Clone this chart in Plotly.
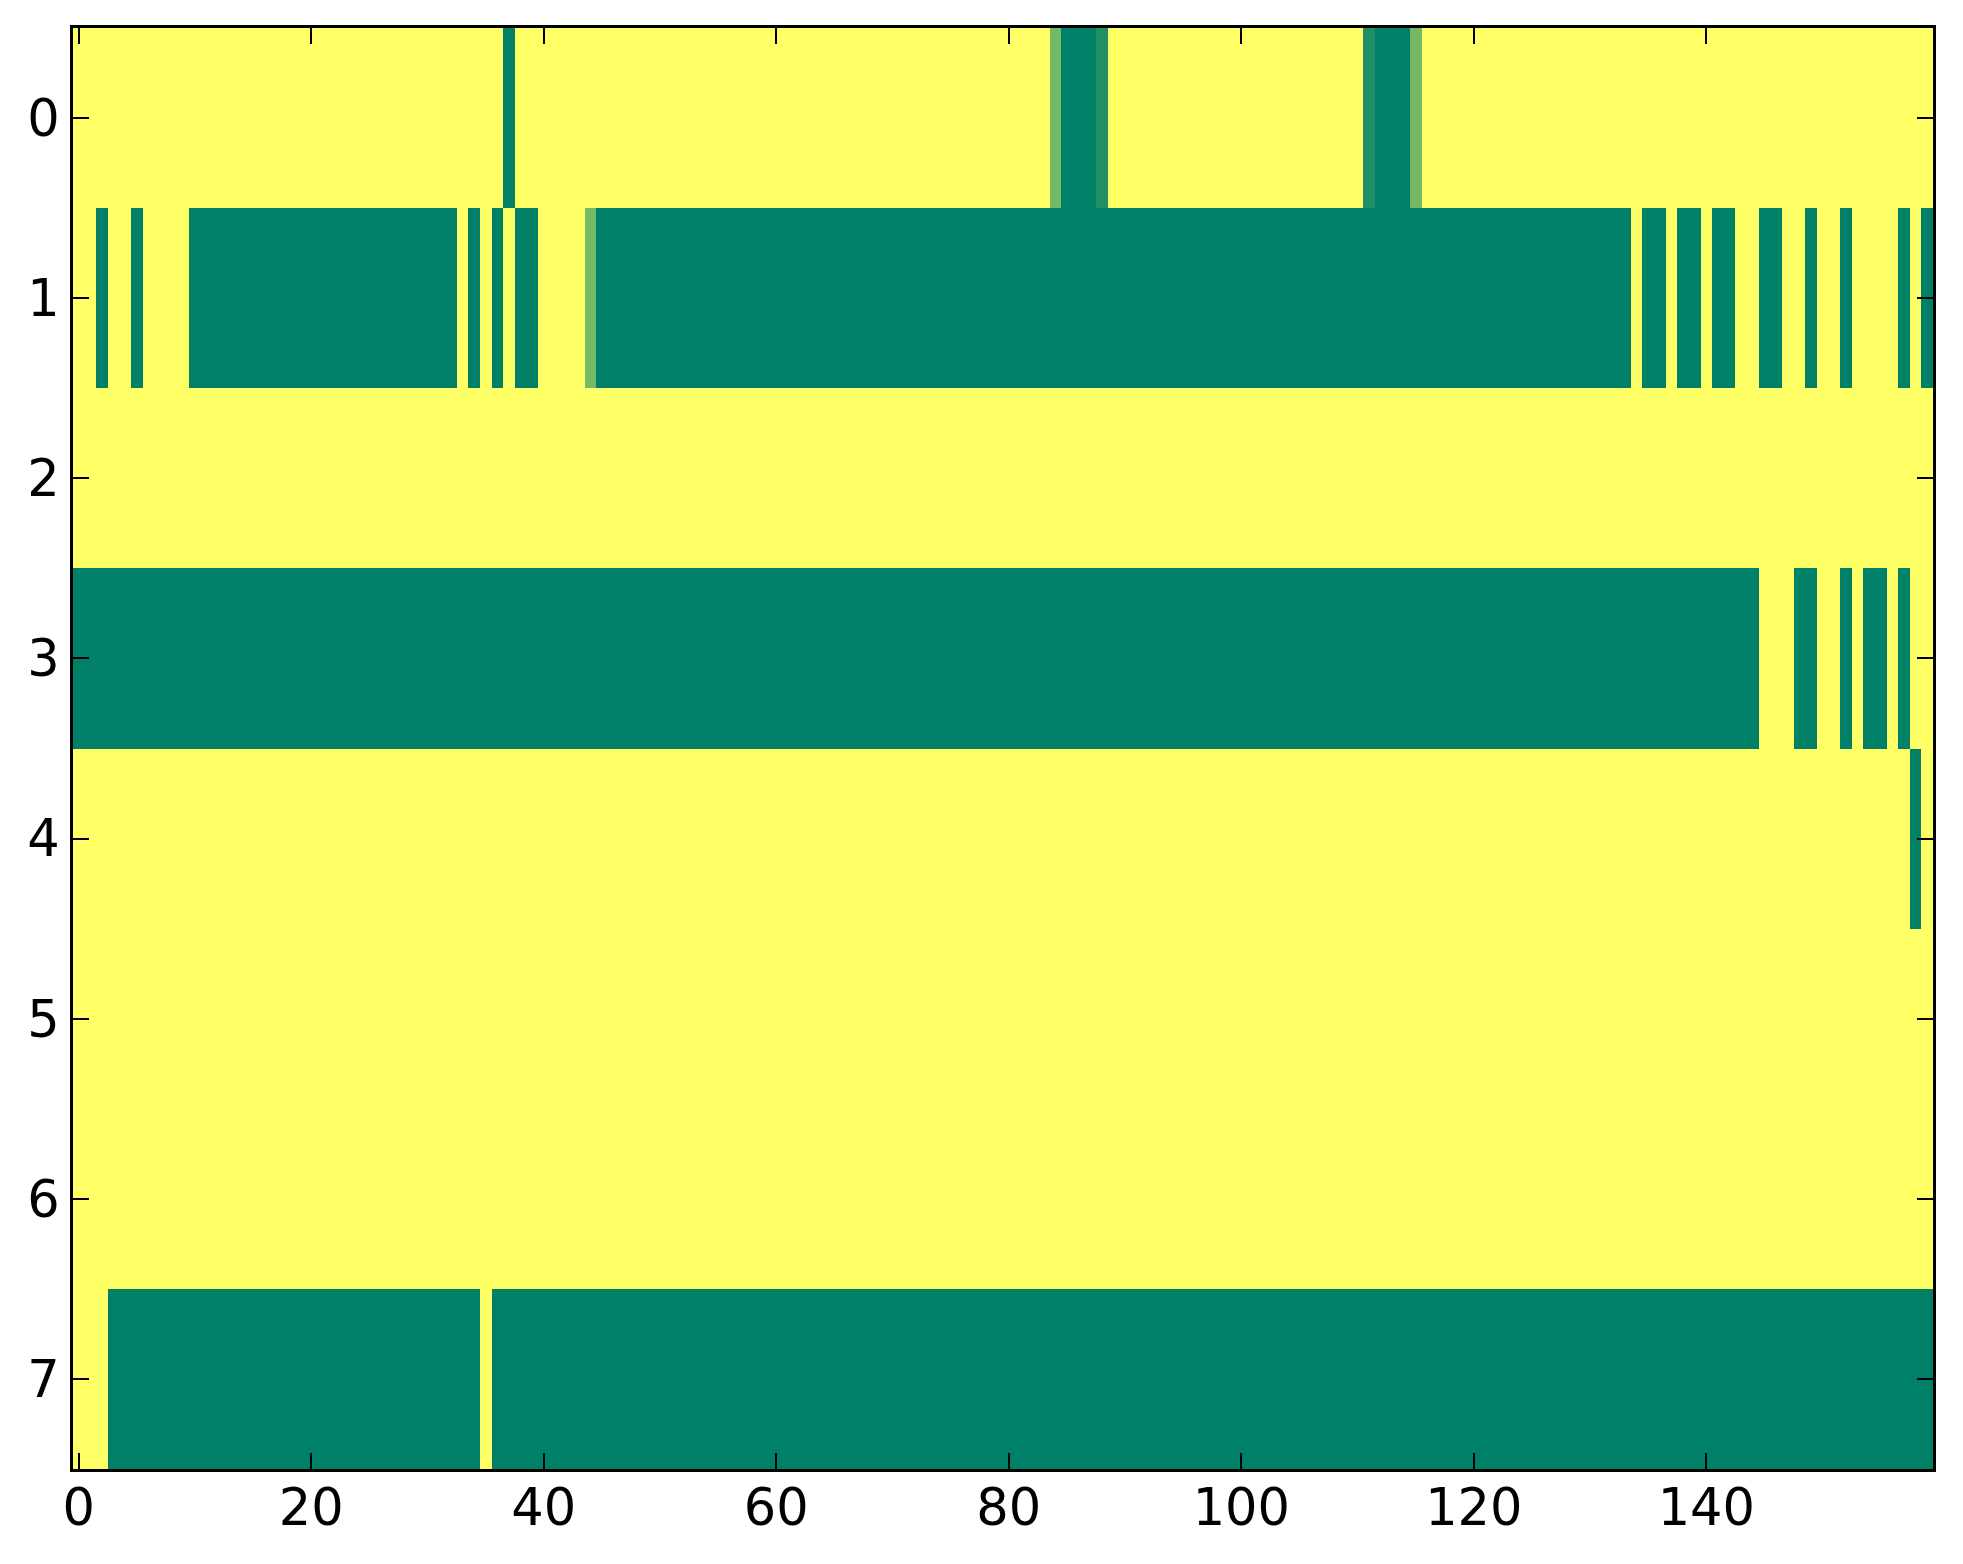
import numpy as np
import plotly.graph_objects as go

# cell values, stored as (value, run length) per row
# 1.0 = yellow, 0.0 = green, in-between shades for the few blended cells
row_0 = [(1, 37), (0, 1), (1, 46), (0.45, 1), (0, 3), (0.12, 1), (1, 22),
         (0.12, 1), (0, 3), (0.45, 1), (1, 44)]
row_1 = [(1, 2), (0, 1), (1, 2), (0, 1), (1, 4), (0, 23), (1, 1), (0, 1), (1, 1),
         (0, 1), (1, 1), (0, 2), (1, 4), (0.45, 1), (0, 89), (1, 1), (0, 2), (1, 1),
         (0, 2), (1, 1), (0, 2), (1, 2), (0, 2), (1, 2), (0, 1), (1, 2), (0, 1),
         (1, 4), (0, 1), (1, 1), (0, 1)]
row_2 = [(1, 160)]
row_3 = [(0, 145), (1, 3), (0, 2), (1, 2), (0, 1), (1, 1), (0, 2), (1, 1), (0, 1), (1, 2)]
row_4 = [(1, 158), (0, 1), (1, 1)]
row_5 = [(1, 160)]
row_6 = [(1, 160)]
row_7 = [(1, 3), (0, 32), (1, 1), (0, 124)]

rows = [row_0, row_1, row_2, row_3, row_4, row_5, row_6, row_7]
x_ticks = [0, 20, 40, 60, 80, 100, 120, 140]
y_ticks = [0, 1, 2, 3, 4, 5, 6, 7]


def expand(runs):
    out = []
    for val, n in runs:
        out += [val] * n
    return out


z = np.array([expand(r) for r in rows])

# matplotlib "summer" map: green -> yellow
summer = [[0.0, "rgb(0,128,102)"], [1.0, "rgb(255,255,102)"]]

fig = go.Figure()
fig.add_trace(go.Heatmap(z=z, x=np.arange(z.shape[1]), y=np.arange(z.shape[0]),
                         colorscale=summer, zmin=0, zmax=1, showscale=False,
                         hoverinfo="skip"))

axis_style = dict(showline=True, linecolor="black", linewidth=3, mirror="ticks",
                  ticks="inside", ticklen=16, tickwidth=2, tickcolor="black",
                  showgrid=False, zeroline=False,
                  tickfont=dict(family="DejaVu Sans", size=51, color="black"))

fig.update_xaxes(range=[-0.5, 159.5], tickvals=x_ticks, ticklabelstandoff=-8, **axis_style)
fig.update_yaxes(range=[7.5, -0.5], tickvals=y_ticks, **axis_style)

# page body has an 8px margin, so the plot box is shifted back by that
fig.update_layout(width=1963, height=1564, plot_bgcolor="white", paper_bgcolor="white",
                  margin=dict(l=65, r=38, t=20, b=103))

fig.write_html("out.html")
